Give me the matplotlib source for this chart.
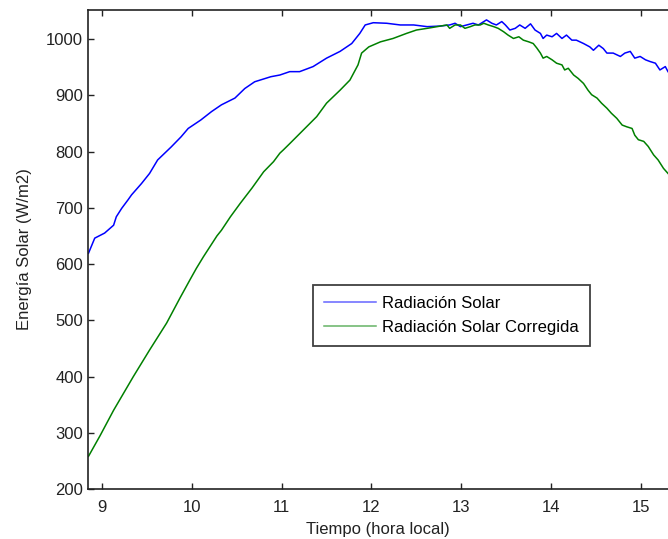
import matplotlib
matplotlib.use("Agg")
import matplotlib.pyplot as plt

plt.rcParams['font.family'] = ['Liberation Sans', 'DejaVu Sans']

# Radiación Solar (blue)
t_blue = [8.85, 8.92, 9.03, 9.13, 9.16, 9.22, 9.29, 9.33, 9.44, 9.53, 9.62, 9.77,
          9.88, 9.96, 10.10, 10.22, 10.33, 10.48, 10.59, 10.70, 10.88, 10.98, 11.09,
          11.20, 11.35, 11.50, 11.65, 11.78, 11.87, 11.93, 12.02, 12.17, 12.32, 12.47,
          12.62, 12.76,
          12.87, 12.93, 12.99, 13.06, 13.13, 13.19, 13.25, 13.28, 13.34, 13.39, 13.45,
          13.49, 13.54, 13.60, 13.65, 13.71, 13.77, 13.82, 13.88, 13.91, 13.95, 14.01,
          14.06, 14.12, 14.17, 14.23, 14.28, 14.36, 14.43, 14.47, 14.53, 14.58, 14.62,
          14.69, 14.77, 14.82, 14.88, 14.93, 14.99, 15.05, 15.10, 15.16, 15.21, 15.27,
          15.30]
v_blue = [619, 646, 655, 669, 684, 699, 714, 723, 743, 761, 785, 808,
          826, 841, 856, 871, 883, 895, 912, 924, 933, 936, 942,
          942, 951, 966, 978, 992, 1010, 1025, 1029, 1028, 1025, 1025,
          1022, 1023,
          1025, 1028, 1022, 1025, 1028, 1025, 1031, 1034, 1028, 1025, 1031,
          1025, 1016, 1019, 1025, 1019, 1027, 1016, 1010, 1001, 1007, 1004,
          1010, 1001, 1007, 998, 998, 992, 986, 980, 989, 983, 975,
          975, 969, 975, 978, 966, 969, 963, 960, 957, 945, 951,
          942]

# Radiación Solar Corregida (green)
t_green = [8.85, 8.98, 9.13, 9.35, 9.53, 9.72, 9.87, 9.98, 10.05, 10.13, 10.28, 10.33,
           10.43, 10.54, 10.67, 10.80, 10.91, 10.98, 11.02, 11.09, 11.24, 11.39, 11.50,
           11.65, 11.76, 11.85, 11.89, 11.97, 12.10, 12.24, 12.39, 12.50, 12.62, 12.73,
           12.84,
           12.87, 12.93, 12.99, 13.04, 13.10, 13.15, 13.21, 13.25, 13.30, 13.36, 13.41,
           13.47, 13.52, 13.58, 13.64, 13.69, 13.75, 13.80, 13.84, 13.88, 13.91, 13.95,
           14.01, 14.06, 14.12, 14.15, 14.19, 14.25, 14.30, 14.36, 14.41, 14.45, 14.51,
           14.56, 14.62, 14.67, 14.73, 14.79, 14.84, 14.90, 14.93, 14.97, 15.03, 15.08,
           15.14, 15.19, 15.25, 15.30]
v_green = [258, 295, 340, 400, 447, 495, 540, 572, 592, 613, 650, 660,
           684, 708, 735, 764, 782, 797, 803, 814, 838, 862, 886,
           909, 927, 954, 975, 986, 995, 1001, 1010, 1016, 1019, 1022,
           1025,
           1019, 1025, 1025, 1019, 1022, 1025, 1025, 1028, 1025, 1022, 1019,
           1013, 1007, 1001, 1004, 998, 995, 992, 984, 975, 966, 969,
           963, 957, 954, 945, 948, 936, 930, 921, 909, 901, 895,
           886, 877, 868, 859, 847, 844, 841, 829, 821, 818, 809,
           794, 785, 770, 761]

x_ticks = [9, 10, 11, 12, 13, 14, 15]
y_ticks = [200, 300, 400, 500, 600, 700, 800, 900, 1000]

fig = plt.figure(figsize=(6.68, 5.39), dpi=100)
ax = fig.add_axes([88/668, 1 - 489/539, 1 - 88/668, (489 - 10)/539])

ax.plot(t_blue, v_blue, color='#0000ff', lw=1.1, label='Radiación Solar')
ax.plot(t_green, v_green, color='#008000', lw=1.1, label='Radiación Solar Corregida')

ax.set_xlim(8.845, 15.30)
ax.set_ylim(200, 1051.6)
ax.set_xticks(x_ticks)
ax.set_yticks(y_ticks)
ax.tick_params(axis='both', direction='in', length=4, width=1, labelsize=12,
               colors='#222222', top=True, right=False)
ax.tick_params(axis='x', pad=8)
for s in ['left', 'bottom', 'top']:
    ax.spines[s].set_linewidth(1.2)
    ax.spines[s].set_color('#222222')
ax.spines['right'].set_visible(False)

ax.set_xlabel('Tiempo (hora local)', fontsize=12, color='#222222', labelpad=5)
ax.set_ylabel('Energía Solar (W/m2)', fontsize=12, color='#222222', labelpad=10)

leg = ax.legend(loc='upper left', bbox_to_anchor=(0.388, 0.426), fontsize=12,
                frameon=True, fancybox=False, shadow=False, handlelength=3.1,
                handletextpad=0.4, labelspacing=0.55, borderpad=0.65,
                borderaxespad=0)
leg.get_frame().set_edgecolor('#111111')
leg.get_frame().set_linewidth(1.3)
for line in leg.get_lines():
    line.set_alpha(0.6)

fig.savefig('out.png', dpi=100)
